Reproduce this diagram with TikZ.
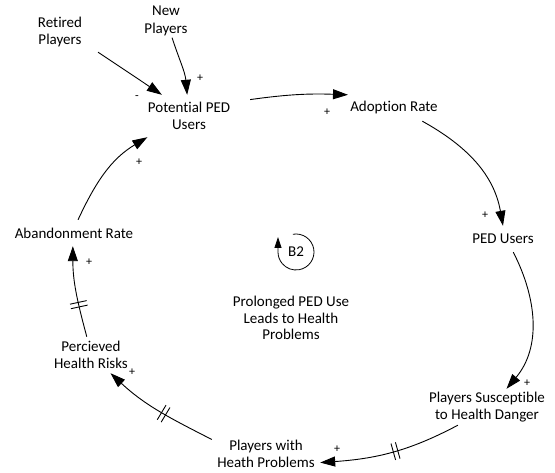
\documentclass[tikz,border=0pt]{standalone}
\usepackage{fontspec}
\setmainfont{Carlito}[Ligatures=NoCommon]
\usetikzlibrary{arrows.meta,decorations.markings}

\tikzset{
  var/.style={font=\fontsize{15}{17.5}\selectfont, align=center, inner sep=0pt},
  loopname/.style={font=\fontsize{15}{16.5}\selectfont, align=center, inner sep=0pt},
  pol/.style={font=\fontsize{12}{14}\selectfont, inner sep=0pt},
  link/.style={line width=0.9pt, -{Triangle[length=15pt,width=10pt]}},
  delayat/.style={postaction={decorate,decoration={markings,
      mark=at position #1 with {\draw[-, line width=0.9pt] (-2.3,-8.5) -- (-2.3,8.5) (2.3,-8.5) -- (2.3,8.5);}}}}
}

\begin{document}
\begin{tikzpicture}[x=1pt,y=1pt]
\useasboundingbox (0,0) rectangle (555,473);

% variables
\node[var, minimum width=76pt, minimum height=40pt] (ret) at (60,441) {Retired\\Players};
\node[var, minimum width=50pt, minimum height=33pt] (newp) at (166,452) {New\\Players};
\node[var, minimum width=122pt, minimum height=42pt] (pu) at (189,357) {Potential PED\\Users};
\node[var, minimum width=100pt, minimum height=26pt] (ar) at (394,365) {Adoption Rate};
\node[var, minimum width=70pt, minimum height=26pt] (pedu) at (503,234) {PED Users};
\node[var, minimum width=132pt, minimum height=36pt] (psus) at (487,66) {Players Susceptible\\to Health Danger};
\node[var, minimum width=108pt, minimum height=36pt] (pwh) at (266,19) {Players with\\Heath Problems};
\node[var, minimum width=70pt, minimum height=36pt] (phr) at (91,118) {Percieved\\Health Risks};
\node[var, minimum width=128pt, minimum height=26pt] (abr) at (74,240) {Abandonment Rate};

% loop identifier
\node[var] (b2) at (296,221) {B2};
\node[loopname] (loopname) at (291,155) {Prolonged PED Use\\Leads to Health\\Problems};
\draw[line width=0.8pt, -{Triangle[length=11pt,width=7pt]}]
  ([shift={(100:18)}]b2.center) arc[start angle=100, end angle=-180, radius=18] -- ++(0,15);

% causal links
\draw[link] (ret.-28) -- (pu.142);
\draw[link] (newp.-70) to[out=-72,in=95] (pu.95);
\draw[link] (pu.15.6) to[out=8,in=178] (ar.164.5);
\draw[link] (ar.-25) to[out=-29,in=100] (pedu.90);
\draw[link] (pedu.-52) to[out=-63,in=50] (psus.43.5);
\draw[link, delayat=0.47] (psus.-148) to[out=-152,in=4] (pwh.-9);
\draw[link, delayat=0.45] (pwh.165) to[out=153,in=-43] (phr.-43.5);
\draw[link, delayat=0.36] (phr.103) to[out=105,in=-90] (abr.-95);
\draw[link] (abr.73) to[out=65,in=-149] (pu.-153);

% link polarities
\node[pol] (s1) at (137,375) {-};
\node[pol] (s2) at (200,395) {+};
\node[pol] (s3) at (327,361) {+};
\node[pol] (s4) at (485,258) {+};
\node[pol] (s5) at (527,90) {+};
\node[pol] (s6) at (337,24) {+};
\node[pol] (s7) at (132,101) {+};
\node[pol] (s8) at (89,211) {+};
\node[pol] (s9) at (139,311) {+};
\end{tikzpicture}
\end{document}
